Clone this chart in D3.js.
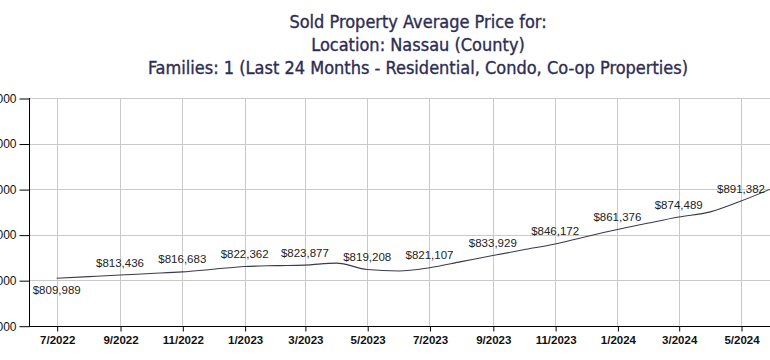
<!DOCTYPE html>
<html>
<head>
<meta charset="utf-8">
<script src="https://cdn.jsdelivr.net/npm/d3@7"></script>
<style>
  html, body { margin: 0; padding: 0; background: #fff; overflow: hidden; }
  svg { display: block; }
</style>
</head>
<body>
<svg id="chart" width="770" height="360"></svg>
<script>
// ---- data ----
const titleLines = [
  "Sold Property Average Price for:",
  "Location: Nassau (County)",
  "Families: 1 (Last 24 Months - Residential, Condo, Co-op Properties)"
];
const months = [
  "2022-07","2022-08","2022-09","2022-10","2022-11","2022-12",
  "2023-01","2023-02","2023-03","2023-04","2023-05","2023-06",
  "2023-07","2023-08","2023-09","2023-10","2023-11","2023-12",
  "2024-01","2024-02","2024-03","2024-04","2024-05","2024-06"
];
const avgPrice = [
  809989, 811700, 813436, 815000, 816683, 819500,
  822362, 823300, 823877, 826000, 819208, 817700,
  821107, 827500, 833929, 840000, 846172, 853800,
  861376, 868300, 874489, 880000, 891382, 905000
];
const xTickLabels = ["7/2022","9/2022","11/2022","1/2023","3/2023","5/2023",
                     "7/2023","9/2023","11/2023","1/2024","3/2024","5/2024"];
const yTickValues = [760000, 808000, 856000, 904000, 952000, 1000000];

// ---- layout ----
const W = 770, H = 360;
const plotLeft = 29, plotTop = 98, plotBottom = 325.7, plotRight = 800;
const parseM = d3.timeParse("%Y-%m");
const data = months.map((m, i) => ({ date: parseM(m), value: avgPrice[i], i }));
const tickDates = xTickLabels.map(s => d3.timeParse("%m/%Y")(s));

const x = d3.scaleTime()
  .domain([tickDates[0], tickDates[tickDates.length - 1]])
  .range([56.7, 741]);
const y = d3.scaleLinear()
  .domain([yTickValues[0], yTickValues[yTickValues.length - 1]])
  .range([plotBottom, plotTop]);

const svg = d3.select("#chart");
svg.append("rect").attr("width", W).attr("height", H).attr("fill", "#fff");

// title
svg.append("g").selectAll("text").data(titleLines).join("text")
  .attr("x", 418)
  .attr("y", (d, i) => 28 + i * 23)
  .attr("text-anchor", "middle")
  .attr("font-family", "'DejaVu Sans Condensed', 'DejaVu Sans', sans-serif")
  .attr("font-size", 18)
  .attr("fill", "#2d2d55")
  .attr("stroke", "#2d2d55")
  .attr("stroke-width", 0.35)
  .text(d => d);

// gridlines
const grid = svg.append("g").attr("stroke", "#c9c9c9").attr("stroke-width", 1);
grid.selectAll("line.h").data(yTickValues).join("line")
  .attr("x1", plotLeft).attr("x2", plotRight)
  .attr("y1", d => Math.round(y(d)) + 0.5).attr("y2", d => Math.round(y(d)) + 0.5);
grid.selectAll("line.v").data(tickDates).join("line")
  .attr("y1", plotTop).attr("y2", plotBottom)
  .attr("x1", d => Math.round(x(d)) + 0.5).attr("x2", d => Math.round(x(d)) + 0.5);

// x axis
const xAxis = d3.axisBottom(x)
  .tickValues(tickDates)
  .tickSize(5)
  .tickPadding(4)
  .tickFormat((d, i) => xTickLabels[i]);
const gx = svg.append("g")
  .attr("transform", `translate(0.5,${Math.round(plotBottom) + 0.5})`)
  .call(xAxis);
gx.select(".domain").remove();
gx.selectAll("line").attr("stroke", "#000");
gx.selectAll("text")
  .attr("font-family", "'Liberation Sans', Arial, sans-serif")
  .attr("font-weight", "bold")
  .attr("font-size", 11.5)
  .attr("fill", "#111");
svg.append("line")
  .attr("x1", plotLeft).attr("x2", plotRight)
  .attr("y1", Math.round(plotBottom) + 0.5).attr("y2", Math.round(plotBottom) + 0.5)
  .attr("stroke", "#000");

// y axis
const yAxis = d3.axisLeft(y)
  .tickValues(yTickValues)
  .tickSize(10)
  .tickPadding(3)
  .tickFormat(d3.format("$,"));
const gy = svg.append("g")
  .attr("transform", `translate(${plotLeft + 0.5},0.5)`)
  .call(yAxis);
gy.select(".domain").remove();
gy.selectAll("line").attr("stroke", "#000");
gy.selectAll("text")
  .attr("font-family", "'Liberation Sans', Arial, sans-serif")
  .attr("font-size", 12)
  .attr("fill", "#111");
svg.append("line")
  .attr("x1", plotLeft + 0.5).attr("x2", plotLeft + 0.5)
  .attr("y1", plotTop).attr("y2", Math.round(plotBottom) + 0.5)
  .attr("stroke", "#000");

// line
const line = d3.line()
  .x(d => x(d.date))
  .y(d => y(d.value))
  .curve(d3.curveMonotoneX);
svg.append("path")
  .datum(data)
  .attr("d", line)
  .attr("fill", "none")
  .attr("stroke", "#3a3a4e")
  .attr("stroke-width", 1.1);

// data labels (every other month)
const fmt = d3.format("$,");
svg.append("g").selectAll("text")
  .data(data.filter(d => d.i % 2 === 0))
  .join("text")
  .attr("x", d => x(d.date))
  .attr("y", d => d.i === 0 ? y(d.value) + 16 : y(d.value) - 8.5)
  .attr("text-anchor", "middle")
  .attr("font-family", "'Liberation Sans', Arial, sans-serif")
  .attr("font-size", 11.5)
  .attr("fill", "#222")
  .text(d => fmt(d.value));
</script>
</body>
</html>
